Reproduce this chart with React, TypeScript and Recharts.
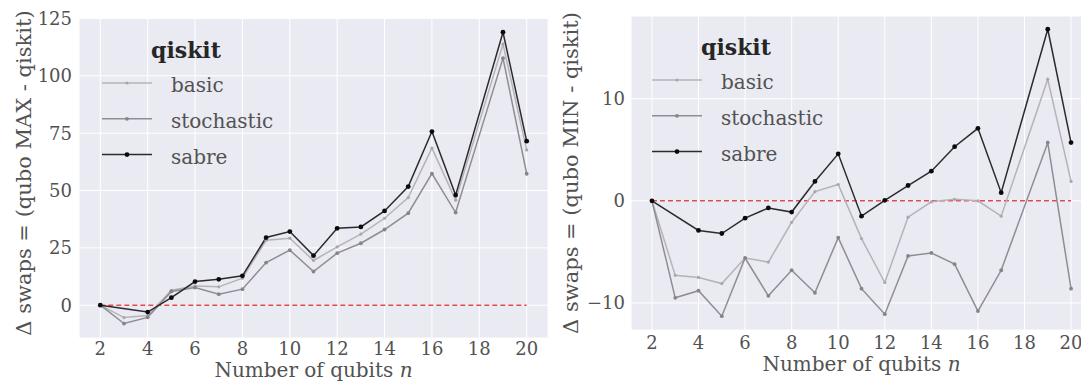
import React from 'react';
import { LineChart, Line, XAxis, YAxis, CartesianGrid, ReferenceLine, Legend, Label } from 'recharts';

// number of qubits (no run at n = 18)
const qubits = [2, 3, 4, 5, 6, 7, 8, 9, 10, 11, 12, 13, 14, 15, 16, 17, 19, 20];

// qubo MAX - qiskit
const basicMax = [0, -5.4, -4.5, 6.5, 8.4, 8.0, 11.8, 28.3, 29.2, 19.5, 25.4, 31, 37.9, 46.9, 68.5, 45.8, 113.8, 67.7];
const stochasticMax = [0, -8, -5.3, 6, 7.7, 4.8, 7, 18.6, 24, 14.7, 22.7, 27, 33, 40.1, 57.4, 40.4, 107.7, 57.3];
const sabreMax = [0, null, -3, 3.3, 10.3, 11.3, 12.8, 29.5, 32.1, 21.6, 33.5, 34.1, 41.1, 51.7, 75.7, 48, 119, 71.5];

// qubo MIN - qiskit
const basicMin = [0, -7.3, -7.5, -8.1, -5.6, -6.0, -2.1, 0.9, 1.6, -3.7, -8.0, -1.6, -0.1, 0.15, 0, -1.5, 11.9, 1.9];
const stochasticMin = [0, -9.5, -8.8, -11.3, -5.6, -9.3, -6.8, -9.0, -3.6, -8.6, -11.1, -5.4, -5.1, -6.2, -10.8, -6.8, 5.7, -8.6];
const sabreMin = [0, null, -2.9, -3.2, -1.7, -0.7, -1.1, 1.9, 4.6, -1.5, 0.05, 1.5, 2.9, 5.3, 7.1, 0.8, 16.8, 5.7];

const xTicks = [2, 4, 6, 8, 10, 12, 14, 16, 18, 20];
const yTicksMax = [0, 25, 50, 75, 100, 125];
const yTicksMin = [-10, 0, 10];

const SERIES = [
  { key: 'basic', stroke: '#b6b2ba', dot: '#aaa6ae', r: 1.6 },
  { key: 'stochastic', stroke: '#908c94', dot: '#87838b', r: 1.9 },
  { key: 'sabre', stroke: '#2b2a2e', dot: '#0a0a0a', r: 2.4 },
];

const FONT = "'DejaVu Serif', 'Liberation Serif', serif";
const TEXT = '#525252';

const buildRows = (basic: (number | null)[], stochastic: (number | null)[], sabre: (number | null)[]) =>
  qubits.map((n, i) => ({ n, basic: basic[i], stochastic: stochastic[i], sabre: sabre[i] }));

const fmt = (v: number) => (v < 0 ? `\u2212${-v}` : `${v}`);

const QiskitLegend = () => (
  <svg width={200} height={140} style={{ overflow: 'visible', fontFamily: FONT }}>
    <text x={51} y={28} fontSize={22} fontWeight="bold" fill="#262626">
      qiskit
    </text>
    {SERIES.map((s, i) => {
      const y = 53 + i * 35.8;
      return (
        <g key={s.key}>
          <line x1={2} x2={52} y1={y} y2={y} stroke={s.stroke} strokeWidth={1.5} />
          <circle cx={27} cy={y} r={s.r} fill={s.dot} />
          <text x={71} y={y + 9} fontSize={20} fill={TEXT}>
            {s.key}
          </text>
        </g>
      );
    })}
  </svg>
);

type PanelProps = {
  data: ReturnType<typeof buildRows>;
  width: number;
  top: number;
  axisWidth: number;
  axisHeight: number;
  yDomain: [number, number];
  yTicks: number[];
  yLabel: string;
  yLabelX: number;
  yLabelDy: number;
  xTickMargin: number;
  yTickMargin: number;
  xLabelOffset: number;
  legendTop: number;
};

const Panel = (p: PanelProps) => (
  <LineChart width={p.width} height={387} data={p.data} margin={{ top: p.top, right: 0, bottom: 0, left: 0 }}>
    <CartesianGrid stroke="#ffffff" strokeWidth={1} fill="#eaeaf2" />
    <XAxis
      dataKey="n"
      type="number"
      domain={[1.1, 20.9]}
      ticks={xTicks}
      allowDataOverflow
      height={p.axisHeight}
      axisLine={false}
      tickLine={false}
      tickSize={0}
      tickMargin={p.xTickMargin}
      tick={{ fontFamily: FONT, fontSize: 18, fill: TEXT }}
    >
      <Label
        content={(lp: any) => {
          const vb = lp.viewBox;
          return (
            <text
              x={vb.x + vb.width / 2}
              y={vb.y + vb.height - p.xLabelOffset}
              textAnchor="middle"
              style={{ fontFamily: FONT }}
              fontSize={20}
              fill={TEXT}
            >
              Number of qubits <tspan fontStyle="italic">n</tspan>
            </text>
          );
        }}
      />
    </XAxis>
    <YAxis
      type="number"
      domain={p.yDomain}
      ticks={p.yTicks}
      allowDataOverflow
      width={p.axisWidth}
      axisLine={false}
      tickLine={false}
      tickSize={0}
      tickMargin={p.yTickMargin}
      tickFormatter={fmt}
      tick={{ fontFamily: FONT, fontSize: 18, fill: TEXT }}
    >
      <Label
        content={(lp: any) => {
          const vb = lp.viewBox;
          const cy = vb.y + vb.height / 2 + p.yLabelDy;
          return (
            <text
              transform={`translate(${p.yLabelX},${cy}) rotate(-90)`}
              textAnchor="middle"
              style={{ fontFamily: FONT }}
              fontSize={21}
              fill={TEXT}
            >
              {p.yLabel}
            </text>
          );
        }}
      />
    </YAxis>
    <ReferenceLine
      segment={[{ x: 2, y: 0 }, { x: 20, y: 0 }]}
      stroke="#e8474a"
      strokeWidth={1.5}
      strokeDasharray="5 3"
    />
    {SERIES.map((s) => (
      <Line
        key={s.key}
        dataKey={s.key}
        type="linear"
        stroke={s.stroke}
        strokeWidth={1.5}
        dot={{ r: s.r, fill: s.dot, stroke: 'none' }}
        activeDot={false}
        connectNulls
        isAnimationActive={false}
      />
    ))}
    <Legend
      layout="vertical"
      align="center"
      verticalAlign="middle"
      wrapperStyle={{ left: 100, top: p.legendTop, width: 200, height: 140 }}
      content={() => <QiskitLegend />}
    />
  </LineChart>
);

const App = () => (
  <div style={{ position: 'absolute', left: 0, top: 0, width: 1081, height: 387, overflow: 'hidden', background: '#fff' }}>
    <div style={{ position: 'absolute', left: 0, top: 0 }}>
      <Panel
        data={buildRows(basicMax, stochasticMax, sabreMax)}
        width={548}
        top={18}
        axisWidth={79}
        axisHeight={49}
        yDomain={[-14.3, 125.2]}
        yTicks={yTicksMax}
        yLabel="Δ swaps = (qubo MAX - qiskit)"
        yLabelX={31}
        yLabelDy={-5}
        xTickMargin={4}
        yTickMargin={7}
        xLabelOffset={10}
        legendTop={30}
      />
    </div>
    <div style={{ position: 'absolute', left: 550, top: 0 }}>
      <Panel
        data={buildRows(basicMin, stochasticMin, sabreMin)}
        width={542}
        top={16}
        axisWidth={81}
        axisHeight={57}
        yDomain={[-12.65, 18.1]}
        yTicks={yTicksMin}
        yLabel="Δ swaps = (qubo MIN - qiskit)"
        yLabelX={28}
        yLabelDy={0}
        xTickMargin={6}
        yTickMargin={6}
        xLabelOffset={16}
        legendTop={27}
      />
    </div>
  </div>
);

export default App;
